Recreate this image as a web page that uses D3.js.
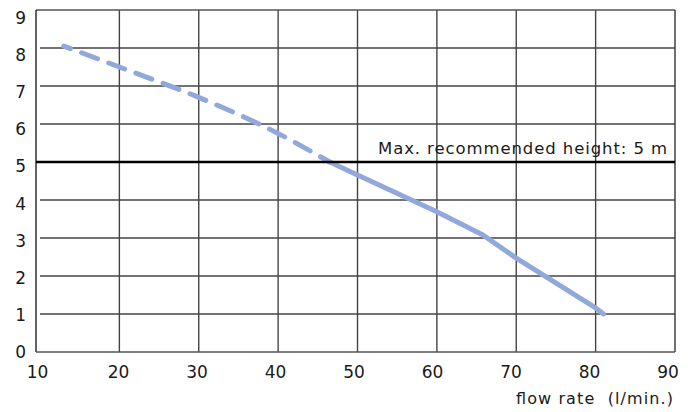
<!DOCTYPE html>
<html><head><meta charset="utf-8">
<script src="https://cdn.jsdelivr.net/npm/d3@7"></script>
<style>body{margin:0;background:#fff}svg{display:block}text{font-family:"DejaVu Sans","Noto Sans",sans-serif;fill:#1a1a1a}</style>
</head><body><svg id="c" width="690" height="412"></svg>
<script>
const xTicks = [10,20,30,40,50,60,70,80,90];
const yTicks = [0,1,2,3,4,5,6,7,8,9];
const dashedFlow = [13,20,30,40,46.5];
const dashedHeight = [8.05,7.5,6.7,5.75,5.0];
const solidFlow = [46.5,50,60,65.8,70,80,81];
const solidHeight = [5.0,4.66,3.69,3.08,2.47,1.16,1.0];
const maxHeight = 5;
const maxLabel = "Max. recommended height: 5 m";
const xTitle = "flow rate  (l/min.)";

const svg = d3.select("#c");
const x = d3.scaleLinear().domain([10,90]).range([40,675]);
const y = d3.scaleLinear().domain([0,9]).range([352,10]);
const yLab = d3.scaleLinear().domain([0,9]).range([358,24]);
const left = 36;

const g = svg.append("g");
g.selectAll(".hg").data(yTicks.filter(d=>d>0&&d<9&&d!==maxHeight)).join("line")
  .attr("x1",40).attr("x2",x(90)).attr("y1",d=>y(d)).attr("y2",d=>y(d))
  .attr("stroke","#444").attr("stroke-width",1.4);
g.selectAll(".vg").data(xTicks.filter(d=>d>10&&d<90)).join("line")
  .attr("x1",d=>x(d)).attr("x2",d=>x(d)).attr("y1",y(9)).attr("y2",y(0))
  .attr("stroke","#444").attr("stroke-width",1.4);
g.append("line").attr("x1",left).attr("x2",x(90)).attr("y1",y(9)).attr("y2",y(9)).attr("stroke","#555").attr("stroke-width",1.3);
g.append("line").attr("x1",x(90)).attr("x2",x(90)).attr("y1",y(9)).attr("y2",y(0)).attr("stroke","#333").attr("stroke-width",1.4);
g.append("line").attr("x1",left).attr("x2",left).attr("y1",y(9)).attr("y2",y(0)).attr("stroke","#222").attr("stroke-width",1.4);
g.append("line").attr("x1",left).attr("x2",x(90)).attr("y1",y(0)).attr("y2",y(0)).attr("stroke","#555").attr("stroke-width",1.6);

const col = "#91a8da";
const dLine = d3.line().x(d=>x(d[0])).y(d=>y(d[1])).curve(d3.curveMonotoneX);
const sLine = d3.line().x(d=>x(d[0])).y(d=>y(d[1]));
svg.append("path").datum(d3.zip(dashedFlow,dashedHeight)).attr("d",dLine)
  .attr("fill","none").attr("stroke",col).attr("stroke-width",5)
  .attr("stroke-linecap","round").attr("stroke-dasharray","17 12").attr("stroke-dashoffset",10);
svg.append("path").datum(d3.zip(solidFlow,solidHeight)).attr("d",sLine)
  .attr("fill","none").attr("stroke",col).attr("stroke-width",5)
  .attr("stroke-linecap","round").attr("stroke-linejoin","round");

svg.append("line").attr("x1",left).attr("x2",x(90)).attr("y1",y(maxHeight)).attr("y2",y(maxHeight))
  .attr("stroke","#000").attr("stroke-width",2.6);
svg.append("text").attr("x",667).attr("y",y(maxHeight)-8).attr("text-anchor","end")
  .attr("font-size",16.5).attr("textLength",289).attr("lengthAdjust","spacing").text(maxLabel);

svg.selectAll(".yl").data(yTicks).join("text")
  .attr("x",26).attr("y",d=>yLab(d)).attr("text-anchor","end").attr("font-size",17).text(d=>d);
svg.selectAll(".xl").data(xTicks).join("text")
  .attr("x",d=>d===10?37.5:x(d)-(d-10)/80*7).attr("y",378).attr("text-anchor","middle").attr("font-size",17).text(d=>d);
svg.append("text").attr("x",673).attr("y",404).attr("text-anchor","end").attr("font-size",16)
  .style("white-space","pre").attr("textLength",157).attr("lengthAdjust","spacing").text(xTitle);
</script></body></html>
